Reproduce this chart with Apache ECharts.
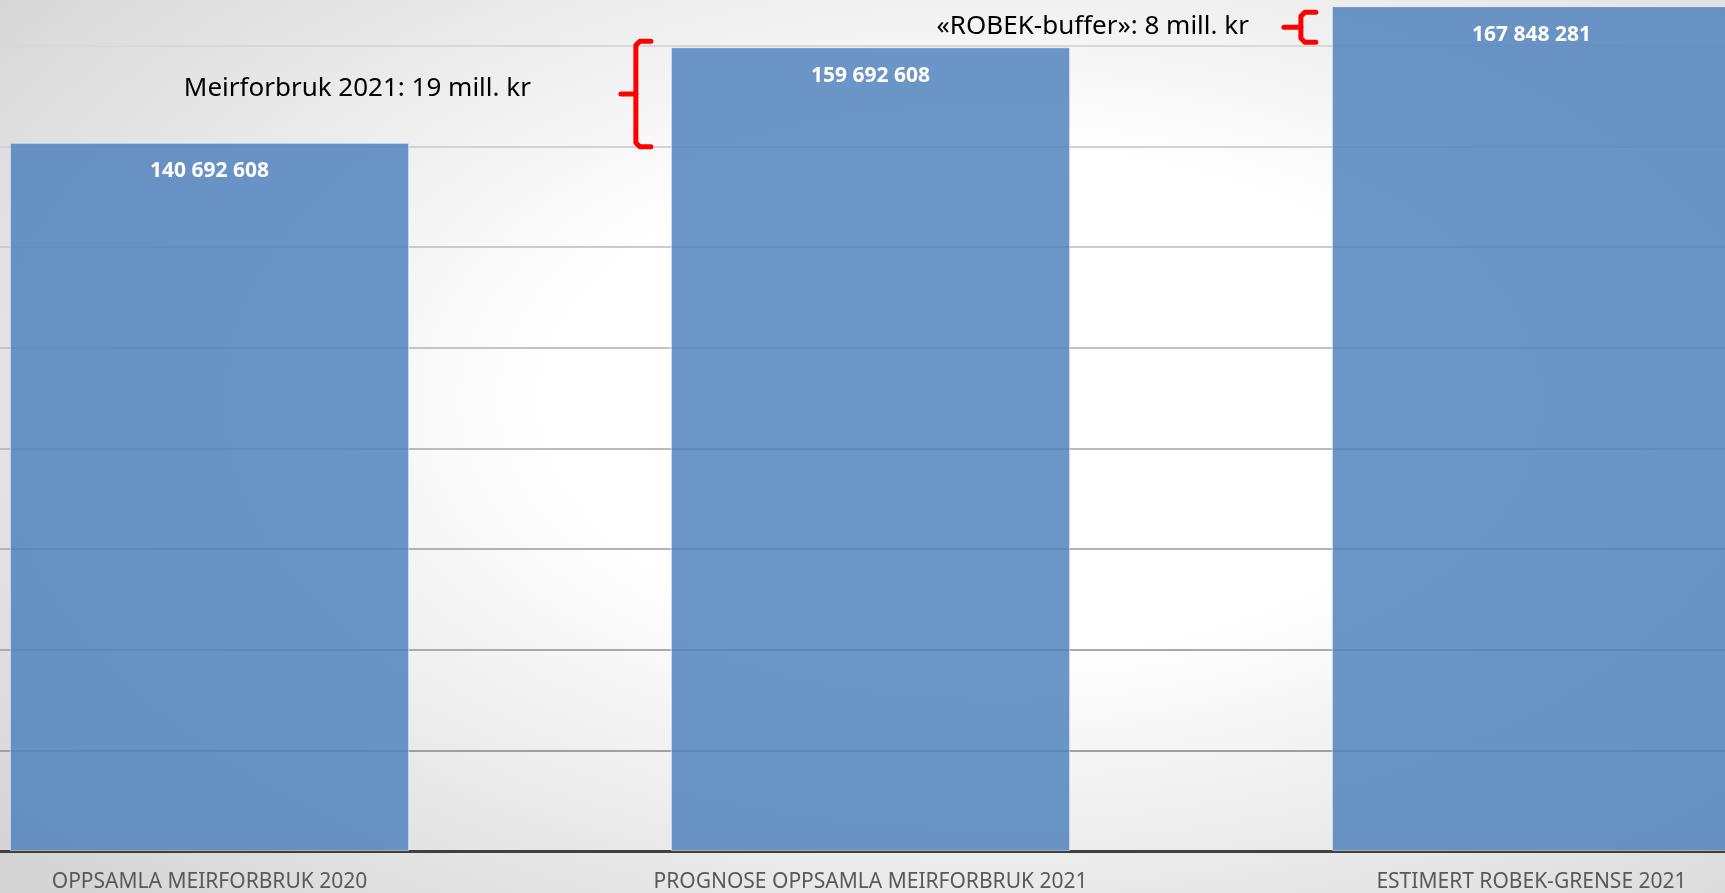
<!DOCTYPE html>
<html><head><meta charset="utf-8">
<script src="https://cdn.jsdelivr.net/npm/echarts@6.0.0/dist/echarts.min.js"></script>
<style>
html,body{margin:0;padding:0;width:1725px;height:893px;overflow:hidden;}
#c{width:1725px;height:893px;background:radial-gradient(ellipse 75% 80% at 58% 45%, #ffffff 35%, #d4d4d4 100%);}
</style></head>
<body><div id="c"></div>
<script>
const categories = ['OPPSAMLA MEIRFORBRUK 2020', 'PROGNOSE OPPSAMLA MEIRFORBRUK 2021', 'ESTIMERT ROBEK-GRENSE 2021'];
const values = [140692608, 159692608, 167848281];
const annotationTexts = ['Meirforbruk 2021: 19 mill. kr', '«ROBEK-buffer»: 8 mill. kr'];
const yMin = 0, yMax = 180000000, yInterval = 20000000;

function fmt(v) { return String(v).replace(/\B(?=(\d{3})+(?!\d))/g, ' '); }

const chart = echarts.init(document.getElementById('c'), null, {renderer: 'canvas'});
const option = {
  backgroundColor: 'transparent',
  animation: false,
  grid: {left: -121, right: -137, top: -55, bottom: 42, containLabel: false, outerBoundsMode: 'none'},
  xAxis: {
    type: 'category',
    data: categories,
    axisLine: {show: true, lineStyle: {color: '#404040', width: 3}},
    axisTick: {show: false},
    axisLabel: {interval: 0, color: '#595959', fontFamily: 'Noto Sans', fontSize: 21, margin: 21, hideOverlap: false},
    splitLine: {show: false}
  },
  yAxis: {
    type: 'value',
    min: yMin, max: yMax, interval: yInterval,
    axisLine: {show: false}, axisTick: {show: false}, axisLabel: {show: false},
    splitLine: {show: true, lineStyle: {width: 2, color: ['#a0a0a0', '#a0a0a0', '#aaaaaa', '#b3b3b3', '#bcbcbc', '#c4c4c4', '#cbcbcb', '#d2d2d2', '#d8d8d8', '#d8d8d8']}}
  },
  series: [{
    type: 'bar',
    data: values,
    barWidth: '60.4%',
    itemStyle: {color: 'rgba(79,129,189,0.83)', borderColor: 'rgba(255,255,255,0.5)', borderWidth: 1},
    label: {
      show: true, position: 'insideTop', distance: 18,
      color: '#ffffff', fontWeight: 'bold', fontSize: 21, fontFamily: 'Noto Sans',
      formatter: p => fmt(p.value)
    }
  }]
};
chart.setOption(option);

// annotations (braces + text) positioned from the data through the chart's scales
const c0 = chart.convertToPixel({gridIndex: 0}, [0, 0]);
const c1 = chart.convertToPixel({gridIndex: 0}, [1, 0]);
const band = c1[0] - c0[0];
const halfBar = band * 0.604 / 2;
function py(v) { return chart.convertToPixel({gridIndex: 0}, [0, v])[1]; }
function barLeft(i) { return chart.convertToPixel({gridIndex: 0}, [i, 0])[0] - halfBar; }

const braceDefs = [
  {bar: 1, top: values[1], bottom: values[0], padTop: -6, padBottom: 4, vOff: 35, armOff: 20, tipOff: 50, text: annotationTexts[0], textGap: 90, textDy: -5},
  {bar: 2, top: values[2], bottom: values[1], padTop: 6, padBottom: -5, vOff: 31, armOff: 16, tipOff: 48, text: annotationTexts[1], textGap: 35, textDy: -1}
];
const graphics = [];
braceDefs.forEach(b => {
  const x0 = barLeft(b.bar);
  const yT = py(b.top) + b.padTop;
  const yB = py(b.bottom) + b.padBottom;
  const vx = x0 - b.vOff, ax = x0 - b.armOff, tx = x0 - b.tipOff;
  const ym = (yT + yB) / 2;
  const st = {stroke: '#ff0000', lineWidth: 5, lineCap: 'round', lineJoin: 'round', fill: null};
  graphics.push({type: 'polyline', silent: true, shape: {points: [[ax, yT], [vx + 4, yT], [vx, yT + 4], [vx, yB - 4], [vx + 4, yB], [ax, yB]]}, style: st});
  graphics.push({type: 'line', silent: true, shape: {x1: vx, y1: ym, x2: tx, y2: ym}, style: st});
  graphics.push({type: 'text', silent: true, style: {text: b.text, x: tx - b.textGap, y: ym + b.textDy, textAlign: 'right', textVerticalAlign: 'middle', verticalAlign: 'middle', font: '26px "Noto Sans"', fill: '#000000'}});
});
chart.setOption({graphic: graphics});
</script>
</body></html>
